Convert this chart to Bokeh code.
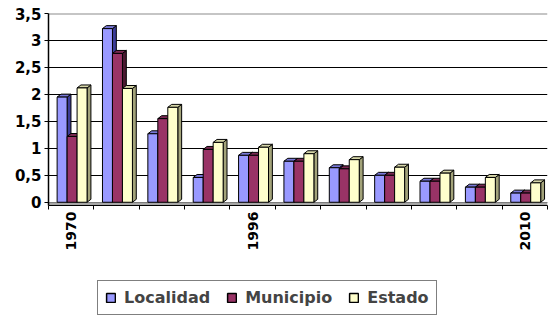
import math
from bokeh.plotting import figure
from bokeh.layouts import column
from bokeh.models import FixedTicker, Legend, LegendItem, ColumnDataSource, LinearAxis
from bokeh.embed import file_html
from bokeh.resources import INLINE

# ---- data ----
categories = ["1970", "", "", "", "1996", "", "", "", "", "", "2010"]
series_names = ["Localidad", "Municipio", "Estado"]
localidad = [1.95, 3.22, 1.27, 0.46, 0.87, 0.76, 0.64, 0.50, 0.39, 0.28, 0.17]
municipio = [1.22, 2.76, 1.55, 0.98, 0.87, 0.76, 0.62, 0.50, 0.39, 0.28, 0.17]
estado = [2.12, 2.11, 1.76, 1.11, 1.02, 0.90, 0.79, 0.65, 0.54, 0.46, 0.36]
y_ticks = [0, 0.5, 1, 1.5, 2, 2.5, 3, 3.5]
y_labels = ["0", "0,5", "1", "1,5", "2", "2,5", "3", "3,5"]

front_colors = ["#9999FF", "#993366", "#FFFFCC"]
top_colors = ["#7878D8", "#7A2952", "#D6D6A8"]
side_colors = ["#3C3C99", "#4A1830", "#A3A37A"]

n = len(categories)
FONT = "DejaVu Sans"

p = figure(width=548, height=278, output_backend="svg", toolbar_location=None,
           x_range=(0, n), y_range=(-0.06, y_ticks[-1]))
p.min_border = 0
p.min_border_left = 48
p.min_border_right = 1
p.min_border_top = 13
p.min_border_bottom = 73
p.outline_line_color = None
p.background_fill_color = "white"
p.border_fill_color = "white"

# floor strip
p.quad(left=[0], right=[n], bottom=[-0.06], top=[0], fill_color="#A6A6A6",
       line_color=None)

bar_w = 0.22
dx = 0.085
dy = 0.055
offsets = [0.19, 0.41, 0.63]
all_vals = [localidad, municipio, estado]
sources = []

for k, vals in enumerate(all_vals):
    x0 = [i + offsets[k] for i in range(n)]
    x1 = [a + bar_w for a in x0]
    side_xs = [[b, b + dx, b + dx, b] for b in x1]
    side_ys = [[0, dy, v + dy, v] for v in vals]
    top_xs = [[a, a + dx, b + dx, b] for a, b in zip(x0, x1)]
    top_ys = [[v, v + dy, v + dy, v] for v in vals]
    p.patches(xs=side_xs, ys=side_ys, fill_color=side_colors[k], line_color="black", line_width=1)
    p.patches(xs=top_xs, ys=top_ys, fill_color=top_colors[k], line_color="black", line_width=1)
    src = ColumnDataSource(dict(left=x0, right=x1, top=vals, bottom=[0] * n))
    sources.append(src)
    p.quad(left="left", right="right", top="top", bottom="bottom", source=src,
           fill_color=front_colors[k], line_color="black", line_width=1)

# top wall edge in gray
p.segment(x0=[0], x1=[n], y0=[y_ticks[-1]], y1=[y_ticks[-1]], line_color="#8C8C8C", line_width=2)

# y axis
p.yaxis.ticker = FixedTicker(ticks=y_ticks)
p.yaxis.major_label_overrides = {t: l for t, l in zip(y_ticks, y_labels)}
p.yaxis.major_label_text_font = FONT
p.yaxis.major_label_text_font_style = "bold"
p.yaxis.major_label_text_font_size = "15px"
p.yaxis.major_label_text_color = "black"
p.yaxis.major_tick_in = 0
p.yaxis.major_tick_out = 4
p.yaxis.minor_tick_line_color = None
p.yaxis.major_label_standoff = 3
p.yaxis.axis_line_color = "black"
p.yaxis.axis_line_width = 1.5

# x axis: tick marks at group boundaries
bounds = list(range(n + 1))
xa = p.xaxis[0]
xa.ticker = FixedTicker(ticks=bounds)
xa.major_label_overrides = {b: "" for b in bounds}
xa.major_label_text_font_size = "1px"
xa.major_label_standoff = 0
xa.major_tick_in = 0
xa.major_tick_out = 4
xa.major_tick_line_color = "black"
xa.minor_tick_line_color = None
xa.axis_line_color = "black"

# x axis: category labels centred in groups
label_ticks = [i + 0.5 for i, c in enumerate(categories) if c]
xb = LinearAxis(ticker=FixedTicker(ticks=label_ticks))
xb.major_label_overrides = {i + 0.5: c for i, c in enumerate(categories) if c}
xb.major_label_orientation = math.pi / 2
xb.major_label_text_font = FONT
xb.major_label_text_font_style = "bold"
xb.major_label_text_font_size = "14px"
xb.major_label_text_color = "black"
xb.major_tick_line_color = None
xb.minor_tick_line_color = None
xb.axis_line_color = None
xb.major_label_standoff = 2
xb.major_tick_out = 0
xb.major_tick_in = 0
p.add_layout(xb, "below")

p.xgrid.grid_line_color = None
p.ygrid.ticker = FixedTicker(ticks=y_ticks[:-1])
p.ygrid.grid_line_color = "black"
p.ygrid.grid_line_width = 1.2

# ---- legend in its own strip (series drawn out of view, used only as legend keys) ----
lg = figure(width=548, height=37, output_backend="svg", toolbar_location=None,
            x_range=(0, n), y_range=(100, 101), x_axis_location=None, y_axis_location=None)
lg.min_border = 0
lg.outline_line_color = None
lg.grid.grid_line_color = None
lg.border_fill_color = "white"
items = []
for k, name in enumerate(series_names):
    r = lg.quad(left="left", right="right", top="top", bottom="bottom", source=sources[k],
                fill_color=front_colors[k], line_color="black", line_width=1.5)
    items.append(LegendItem(label=name, renderers=[r]))

legend = Legend(items=items, orientation="horizontal", location=(49, 0))
legend.label_text_font = FONT
legend.label_text_font_style = "bold"
legend.label_text_font_size = "16px"
legend.glyph_width = 11
legend.glyph_height = 11
legend.label_standoff = 8
legend.spacing = 16
legend.padding = 7
legend.margin = 0
legend.border_line_color = "black"
legend.border_line_width = 1.5
legend.background_fill_alpha = 1
lg.add_layout(legend, "center")

layout = column(p, lg, spacing=0)
open("out.html", "w").write(file_html(layout, INLINE))
